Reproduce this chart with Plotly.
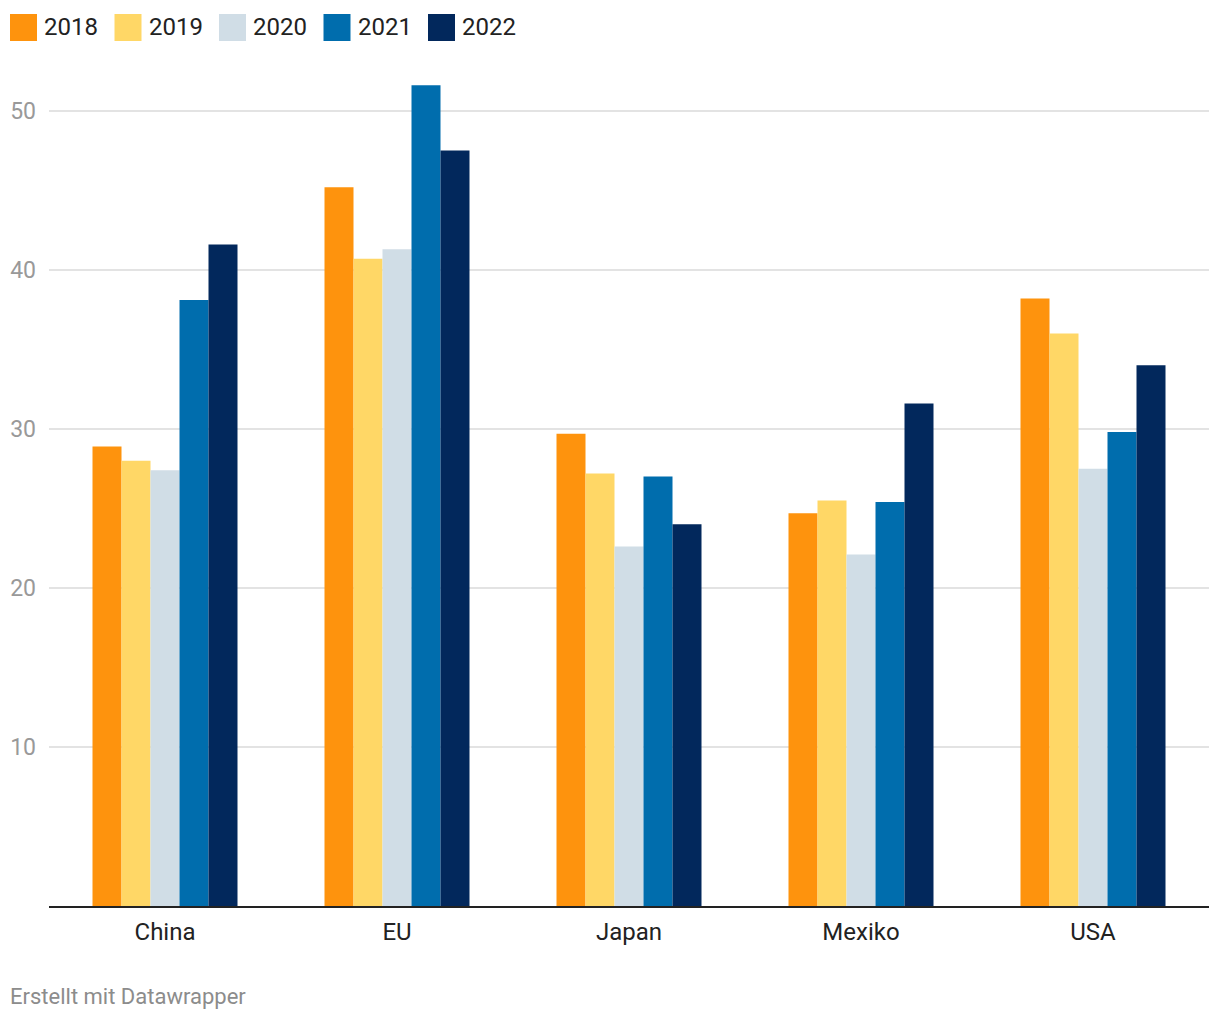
import plotly.graph_objects as go

categories = ["China", "EU", "Japan", "Mexiko", "USA"]
years = ["2018", "2019", "2020", "2021", "2022"]
values = {
    "2018": [28.9, 45.2, 29.7, 24.7, 38.2],
    "2019": [28.0, 40.7, 27.2, 25.5, 36.0],
    "2020": [27.4, 41.3, 22.6, 22.1, 27.5],
    "2021": [38.1, 51.6, 27.0, 25.4, 29.8],
    "2022": [41.6, 47.5, 24.0, 31.6, 34.0],
}
colors = ["#fe930d", "#ffd766", "#d0dde6", "#006dad", "#02285c"]
tick_vals = [10, 20, 30, 40, 50]

FONT = "Roboto"
fig = go.Figure()
for y, c in zip(years, colors):
    fig.add_trace(go.Bar(x=categories, y=values[y], name=y, marker=dict(color=c, line=dict(width=0)),
                         showlegend=False))

# page body has an 8px margin; size the figure so it fits the 1220x1020 window
OFF = 8
W, H = 1220 - OFF, 1020 - OFF
ml, mr, mt, mb = 49 - OFF, 11, 79 - OFF, 114
pw, ph = W - ml - mr, H - mt - mb

def px_x(p):
    return (p - OFF - ml) / pw

def px_y(p):
    return (H - mb - (p - OFF)) / ph

# custom legend (large squares)
shapes = []
annotations = []
for i, (y, c) in enumerate(zip(years, colors)):
    x0 = 10 + i * 104.5
    shapes.append(dict(type="rect", xref="paper", yref="paper",
                       x0=px_x(x0), x1=px_x(x0 + 27), y0=px_y(41), y1=px_y(14),
                       fillcolor=c, line=dict(width=0)))
    annotations.append(dict(text=y, xref="paper", yref="paper", x=px_x(x0 + 32), y=px_y(27.5),
                            xanchor="left", yanchor="middle", showarrow=False,
                            font=dict(family=FONT, size=24, color="#222222")))

annotations.append(dict(text="Erstellt mit Datawrapper", xref="paper", yref="paper",
                        x=px_x(8), y=px_y(996), xanchor="left", yanchor="middle", showarrow=False,
                        font=dict(family=FONT, size=22, color="#8c8c8c")))

fig.update_layout(
    width=W, height=H,
    margin=dict(l=ml, r=mr, t=mt, b=mb, autoexpand=False),
    paper_bgcolor="white", plot_bgcolor="white",
    barmode="group", bargap=0.375, bargroupgap=0,
    font=dict(family=FONT),
    shapes=shapes, annotations=annotations,
    xaxis=dict(showgrid=False, showline=True, linecolor="#222222", linewidth=2,
               ticks="", tickfont=dict(family=FONT, size=24, color="#222222"),
               ticklabelstandoff=3, fixedrange=True),
    yaxis=dict(range=[0, 52], tickvals=tick_vals, showgrid=True, gridcolor="#e3e3e3", gridwidth=1.5,
               zeroline=False, showline=False, ticks="",
               tickfont=dict(family=FONT, size=23, color="#999999"),
               ticklabelstandoff=12),
)

fig.write_html("out.html")
